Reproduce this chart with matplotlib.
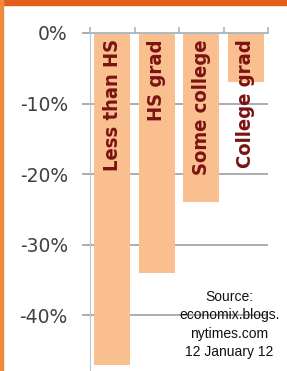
import matplotlib.pyplot as plt
from matplotlib.patches import Rectangle

categories = ['Less than HS', 'HS grad', 'Some college', 'College grad']
values = [-47, -34, -24, -7]   # percent change
yticks = [0, -10, -20, -30, -40]
source = 'Source:\neconomix.blogs.\nnytimes.com\n12 January 12'

fig = plt.figure(figsize=(2.87, 3.71), dpi=100)
ax = fig.add_axes([90/287, 0, 178/287, 1 - 33/371])

x = range(len(values))
ax.bar(x, values, width=0.8, color='#f9bf8f', zorder=2)
ax.set_xlim(-0.5, 3.5)
ax.set_ylim(-47.9, 0)

for i, lab in enumerate(categories):
    ax.text(i, -0.9, lab, rotation=90, ha='center', va='top',
            fontsize=14.5, fontweight='bold', fontstretch='condensed',
            color='#7a1212', family='DejaVu Sans', zorder=3)

ax.set_yticks(yticks)
ax.set_yticklabels(['%d%%' % v for v in yticks], fontsize=13.5, color='#404040')
ax.yaxis.grid(True, color='#a6a6a6', lw=1.3, zorder=0)
ax.tick_params(axis='y', length=6, color='#a6a6a6', width=1.3, pad=10)

ax.xaxis.tick_top()
ax.set_xticks([-0.5, 0.5, 1.5, 2.5, 3.5])
ax.set_xticklabels([])
ax.tick_params(axis='x', length=4, color='#a8b8c4', width=1.2)

for s in ['right', 'bottom']:
    ax.spines[s].set_visible(False)
ax.spines['left'].set_color('#b8c8d4')
ax.spines['top'].set_color('#a8b8c4')
ax.spines['top'].set_linewidth(1.3)

fig.text(0.80, 0.125, source, ha='center', va='center', fontsize=10,
         family='Liberation Sans', linespacing=1.4, color='#111111')

# orange frame on top and left
fig.patches.append(Rectangle((0, 1 - 5/371), 1, 5/371, transform=fig.transFigure,
                             color='#e2601b', zorder=5))
fig.patches.append(Rectangle((0, 0), 3/287, 1, transform=fig.transFigure,
                             color='#f08a3c', zorder=5))

fig.savefig('out.png', dpi=100)
